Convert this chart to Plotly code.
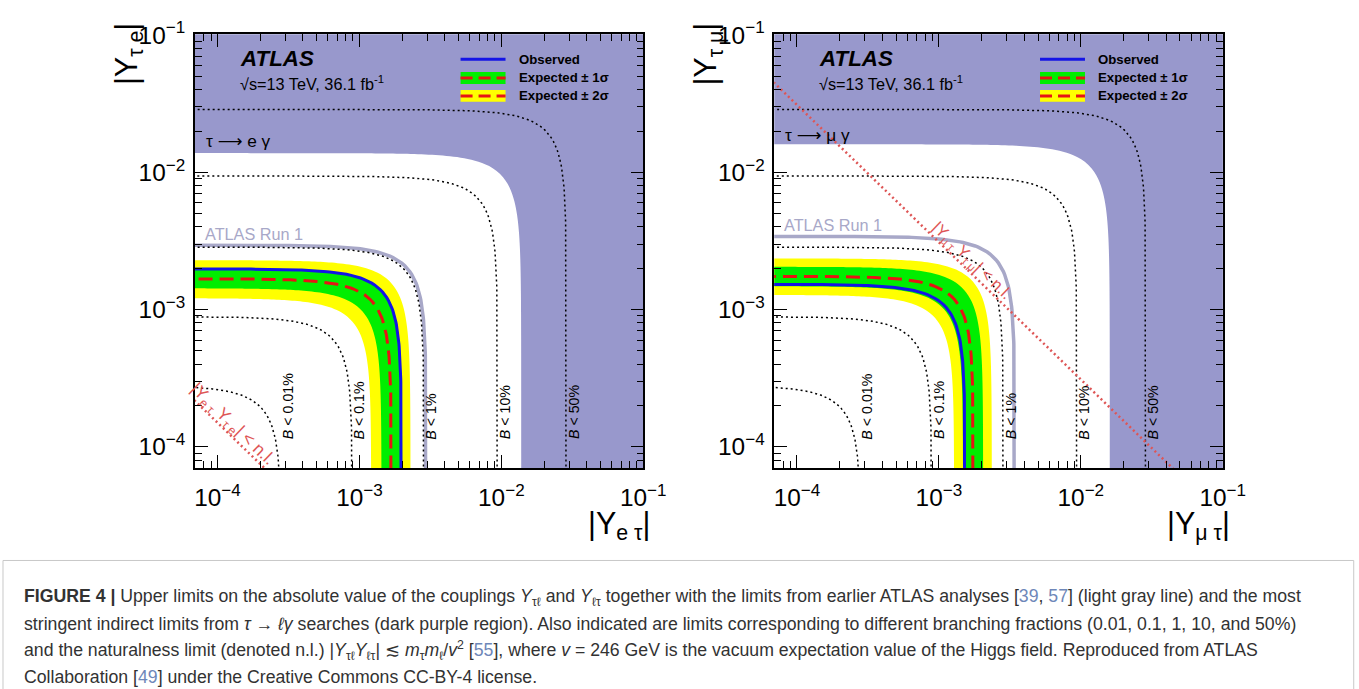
import numpy as np
import plotly.graph_objects as go

# ---------------- data ----------------
channels = ["eτ", "μτ"]
x_titles = ["|Y<sub>e τ</sub>|", "|Y<sub>μ τ</sub>|"]
y_titles = ["|Y<sub>τ e</sub>|", "|Y<sub>τ μ</sub>|"]
decay_labels = ["τ <span style='font-family:DejaVu Sans'>⟶</span> e γ",
                "τ <span style='font-family:DejaVu Sans'>⟶</span> μ γ"]
nl_labels = ["|Y<sub>e τ</sub> Y<sub>τ e</sub>| < n.l.", "|Y<sub>μ τ</sub> Y<sub>τ μ</sub>| < n.l."]

# limits on sqrt(|Y_lt|^2 + |Y_tl|^2)
indirect_limit = [1.38e-2, 1.60e-2]
run1_limit = [2.95e-3, 3.42e-3]
observed = [1.98e-3, 1.53e-3]
expected = [1.68e-3, 1.75e-3]
exp_minus1 = [1.43e-3, 1.48e-3]
exp_plus1 = [2.00e-3, 2.05e-3]
exp_minus2 = [1.21e-3, 1.28e-3]
exp_plus2 = [2.29e-3, 2.36e-3]
naturalness = [1.5e-8, 3.1e-6]      # |Y_lt * Y_tl| limit

br_labels = ["0.01%", "0.1%", "1%", "10%", "50%"]
br_radius = [2.8e-4, 8.9e-4, 2.85e-3, 9.4e-3, 2.87e-2]

tick_vals = [1e-4, 1e-3, 1e-2, 1e-1]
tick_text = ["10<sup>−4</sup>", "10<sup>−3</sup>", "10<sup>−2</sup>", "10<sup>−1</sup>"]

# ---------------- helpers ----------------
W, H = 1359, 689
K = 0.984          # measured page-to-picture scale of the viewer
OY = 13.5          # measured vertical offset of the viewer
def px(x):
    return (x / K) / W
def py(y):
    return 1 - ((y - OY) / K) / H
def fs(s):
    return s / K

LO, HI = 1e-6, 1.0

def arc(r, n=160):
    """quarter circle x^2+y^2=r^2 sampled densely for log axes"""
    y1 = np.geomspace(LO, r / np.sqrt(2), n)
    x1 = np.sqrt(r * r - y1 * y1)
    x2 = np.geomspace(r / np.sqrt(2), LO, n)
    y2 = np.sqrt(r * r - x2 * x2)
    return np.concatenate([x1, x2]), np.concatenate([y1, y2])

def band(r_in, r_out):
    xo, yo = arc(r_out)
    xi, yi = arc(r_in)
    return np.concatenate([xo, xi[::-1]]), np.concatenate([yo, yi[::-1]])

PURPLE = "rgb(152,152,204)"
YELLOW = "rgb(255,255,0)"
GREEN = "rgb(0,238,0)"
RED = "rgb(230,20,20)"
BLUE = "rgb(20,20,230)"
RUN1 = "rgb(168,168,200)"
NLRED = "rgb(222,85,85)"
FONT = "Liberation Sans"

fig = go.Figure()

for i in range(2):
    xa = "x" if i == 0 else "x2"
    ya = "y" if i == 0 else "y2"
    cx, cy = arc(indirect_limit[i])
    fx = np.concatenate([[LO, HI, HI], cx])
    fy = np.concatenate([[HI, HI, LO], cy])
    fig.add_trace(go.Scatter(x=fx, y=fy, fill="toself", fillcolor=PURPLE, mode="none",
                             xaxis=xa, yaxis=ya, showlegend=False, hoverinfo="skip"))
    bx, by = band(exp_minus2[i], exp_plus2[i])
    fig.add_trace(go.Scatter(x=bx, y=by, fill="toself", fillcolor=YELLOW, mode="none",
                             xaxis=xa, yaxis=ya, showlegend=False, hoverinfo="skip"))
    bx, by = band(exp_minus1[i], exp_plus1[i])
    fig.add_trace(go.Scatter(x=bx, y=by, fill="toself", fillcolor=GREEN, mode="none",
                             xaxis=xa, yaxis=ya, showlegend=False, hoverinfo="skip"))
    ex, ey = arc(expected[i])
    fig.add_trace(go.Scatter(x=ex, y=ey, mode="lines", line=dict(color=RED, width=3, dash="14px,7px"),
                             xaxis=xa, yaxis=ya, showlegend=False, hoverinfo="skip"))
    ox, oy = arc(observed[i])
    fig.add_trace(go.Scatter(x=ox, y=oy, mode="lines", line=dict(color=BLUE, width=3),
                             xaxis=xa, yaxis=ya, showlegend=False, hoverinfo="skip"))
    rx, ry = arc(run1_limit[i])
    fig.add_trace(go.Scatter(x=rx, y=ry, mode="lines", line=dict(color=RUN1, width=3.5),
                             xaxis=xa, yaxis=ya, showlegend=False, hoverinfo="skip"))
    for r in br_radius:
        dx, dy = arc(r)
        fig.add_trace(go.Scatter(x=dx, y=dy, mode="lines",
                                 line=dict(color="black", width=1.5, dash="2px,3px"),
                                 xaxis=xa, yaxis=ya, showlegend=False, hoverinfo="skip"))
    nx = np.array([LO * 10, HI])
    fig.add_trace(go.Scatter(x=nx, y=naturalness[i] / nx, mode="lines",
                             line=dict(color=NLRED, width=2.5, dash="2px,3px"),
                             xaxis=xa, yaxis=ya, showlegend=False, hoverinfo="skip"))

minor_vals = [m * 10.0 ** e for e in range(-5, 0) for m in range(2, 10)]
axis_common = dict(
    type="log", tickmode="array", tickvals=tick_vals, ticktext=tick_text,
    ticks="inside", ticklen=13, tickwidth=1.2, tickcolor="black",
    minor=dict(tickmode="array", tickvals=minor_vals, ticks="inside", ticklen=7,
               tickwidth=1.2, tickcolor="black", showgrid=False),
    showline=True, linecolor="black", linewidth=1.5, mirror="allticks",
    showgrid=False, zeroline=False,
    tickfont=dict(family=FONT, size=fs(24), color="black"),
)
xr = [-4.16, -0.999]
yr = [-4.155, -0.995]
y_dom = [py(469), py(32)]
fig.update_layout(
    xaxis=dict(axis_common, domain=[px(195), px(644)], range=xr, anchor="y", ticklabelstandoff=7),
    yaxis=dict(axis_common, domain=y_dom, range=yr, anchor="x", ticklabelstandoff=3),
    xaxis2=dict(axis_common, domain=[px(775), px(1224)], range=xr, anchor="y2", ticklabelstandoff=7),
    yaxis2=dict(axis_common, domain=y_dom, range=yr, anchor="x2", ticklabelstandoff=3),
    width=W, height=H, margin=dict(l=0, r=0, t=0, b=0),
    paper_bgcolor="white", plot_bgcolor="white", showlegend=False,
)

ann = []
shapes = []
offsets = [0, 580]
for i in range(2):
    o = offsets[i]
    xa = "x" if i == 0 else "x2"
    ya = "y" if i == 0 else "y2"
    ann.append(dict(x=px(238 + o), y=py(56), xref="paper", yref="paper", xanchor="left", yanchor="middle",
                    text="<b><i>ATLAS</i></b>", showarrow=False, font=dict(family=FONT, size=fs(22), color="black")))
    ann.append(dict(x=px(238 + o), y=py(81), xref="paper", yref="paper", xanchor="left", yanchor="middle",
                    text="√s=13 TeV, 36.1 fb<sup>-1</sup>", showarrow=False,
                    font=dict(family=FONT, size=fs(16), color="black")))
    ann.append(dict(x=px(204 + o), y=py(139 if i == 0 else 133), xref="paper", yref="paper", xanchor="left",
                    yanchor="middle", text=decay_labels[i], showarrow=False,
                    font=dict(family=FONT, size=fs(17), color="black")))
    ann.append(dict(x=px(203 + o), y=py(233 if i == 0 else 224), xref="paper", yref="paper", xanchor="left",
                    yanchor="middle", text="ATLAS Run 1", showarrow=False,
                    font=dict(family=FONT, size=fs(16), color=RUN1)))
    # legend
    shapes.append(dict(type="line", xref="paper", yref="paper", x0=px(461 + o), x1=px(506 + o), y0=py(57), y1=py(57),
                       line=dict(color=BLUE, width=3)))
    shapes.append(dict(type="rect", xref="paper", yref="paper", x0=px(461 + o), x1=px(506 + o), y0=py(70), y1=py(82),
                       line=dict(width=0), fillcolor=GREEN))
    shapes.append(dict(type="line", xref="paper", yref="paper", x0=px(461 + o), x1=px(506 + o), y0=py(76), y1=py(76),
                       line=dict(color=RED, width=3, dash="12px,6px")))
    shapes.append(dict(type="rect", xref="paper", yref="paper", x0=px(461 + o), x1=px(506 + o), y0=py(88), y1=py(100),
                       line=dict(width=0), fillcolor=YELLOW))
    shapes.append(dict(type="line", xref="paper", yref="paper", x0=px(461 + o), x1=px(506 + o), y0=py(94), y1=py(94),
                       line=dict(color=RED, width=3, dash="12px,6px")))
    for t, yy in [("Observed", 57), ("Expected ± 1σ", 75), ("Expected ± 2σ", 94)]:
        ann.append(dict(x=px(517 + o), y=py(yy), xref="paper", yref="paper", xanchor="left", yanchor="middle",
                        text="<b>" + t + "</b>", showarrow=False, font=dict(family=FONT, size=fs(13), color="black")))
    # BR labels
    for lab, r in zip(br_labels, br_radius):
        ann.append(dict(x=np.log10(r), y=np.log10(1.1e-4), xref=xa, yref=ya, xanchor="center", yanchor="bottom",
                        xshift=7, text="<i>B</i> < " + lab, textangle=-90, showarrow=False,
                        font=dict(family=FONT, size=fs(14), color="black")))
    # axis titles
    ann.append(dict(x=px(620 + o), y=py(527), xref="paper", yref="paper", xanchor="center", yanchor="middle",
                    text=x_titles[i], showarrow=False, font=dict(family=FONT, size=fs(30), color="black")))
    ann.append(dict(x=px(128 + o), y=py(52), xref="paper", yref="paper", xanchor="center", yanchor="middle",
                    text=y_titles[i], textangle=-90, showarrow=False, font=dict(family=FONT, size=fs(30), color="black")))

# naturalness labels along the line
nl_pos = [1.15e-4, 1.55e-3]
nl_size = [17, 16]
for i in range(2):
    xa = "x" if i == 0 else "x2"
    ya = "y" if i == 0 else "y2"
    xv = nl_pos[i]
    ann.append(dict(x=np.log10(xv), y=np.log10(naturalness[i] / xv), xref=xa, yref=ya, xanchor="center",
                    yanchor="middle", xshift=6, yshift=7, text=nl_labels[i], textangle=44, showarrow=False,
                    font=dict(family=FONT, size=fs(nl_size[i]), color=NLRED)))

# caption box and text
shapes.append(dict(type="rect", xref="paper", yref="paper", x0=px(3), x1=px(1355), y0=py(562), y1=py(705),
                   line=dict(color="rgb(200,200,200)", width=1), fillcolor="rgba(0,0,0,0)"))
REF = "rgb(110,135,185)"
def ref(n):
    return "<span style='color:%s'>%s</span>" % (REF, n)
cap_lines = [
    "<b>FIGURE 4 |</b> Upper limits on the absolute value of the couplings <i>Y</i><sub>τℓ</sub> and <i>Y</i><sub>ℓτ</sub> "
    "together with the limits from earlier ATLAS analyses [" + ref("39") + ", " + ref("57") + "] (light gray line) and the most",
    "stringent indirect limits from <i>τ</i> → <i>ℓγ</i> searches (dark purple region). Also indicated are limits "
    "corresponding to different branching fractions (0.01, 0.1, 1, 10, and 50%)",
    "and the naturalness limit (denoted n.l.) |<i>Y</i><sub>τℓ</sub><i>Y</i><sub>ℓτ</sub>| ≲ <i>m</i><sub>τ</sub><i>m</i><sub>ℓ</sub>/<i>v</i><sup>2</sup> ["
    + ref("55") + "], where <i>v</i> = 246 GeV is the vacuum expectation value of the Higgs field. Reproduced from ATLAS",
    "Collaboration [" + ref("49") + "] under the Creative Commons CC-BY-4 license.",
]
for k, line in enumerate(cap_lines):
    ann.append(dict(x=px(22), y=py(599 + 26.7 * k), xref="paper", yref="paper", xanchor="left", yanchor="middle",
                    text=line, showarrow=False,
                    font=dict(family=FONT, size=fs(17.4), color="rgb(50,50,50)")))

fig.update_layout(annotations=ann, shapes=shapes)
fig.write_html("out.html", config={"displayModeBar": False},
               post_script="document.body.style.margin='0';document.body.style.overflow='hidden';")
